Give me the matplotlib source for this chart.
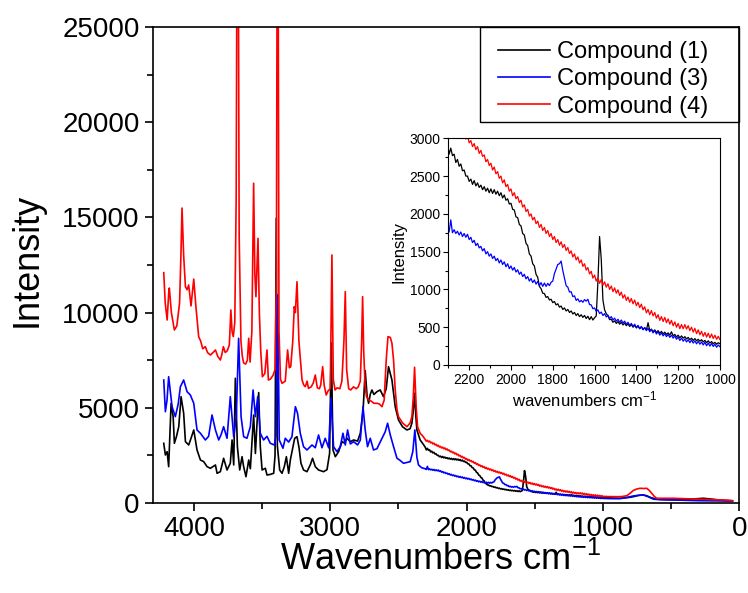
import matplotlib
matplotlib.use('Agg')
import matplotlib.pyplot as plt
from matplotlib.ticker import MultipleLocator
from matplotlib.patches import Rectangle

plt.rcParams['font.family'] = ['Liberation Sans', 'DejaVu Sans']
plt.rcParams['mathtext.fontset'] = 'custom'
plt.rcParams['mathtext.rm'] = 'Liberation Sans'
plt.rcParams['mathtext.it'] = 'Liberation Sans:italic'
plt.rcParams['mathtext.bf'] = 'Liberation Sans:bold'

labels = ['Compound (1)', 'Compound (3)', 'Compound (4)']
colors = ['#000000', '#0000FF', '#FF0000']

# ---- high-wavenumber part (wavenumber, intensity) ----
c1_high = [(4221,3135),(4209,2521),(4196,2695),(4185,1907),(4167,5236),(4152,4533),(4143,3135),(4128,3482),
           (4111,4007),(4094,5583),(4075,4711),(4062,3220),(4038,3046),(4021,3398),(4001,3834),(3977,2784),
           (3952,2258),(3928,2170),(3903,1907),(3879,1822),(3842,1996),(3830,1560),(3806,1644),(3782,2348),
           (3757,1733),(3733,2085),(3720,3309),(3708,1996),(3696,6550),(3681,2957),(3664,1733),(3647,2432),
           (3635,1900),(3618,1381),(3598,2258),(3586,1800),(3562,4622),(3549,2600),(3525,5800),(3513,2957),
           (3500,1733),(3476,1822),(3464,1470),(3440,1500),(3415,1560),(3405,2500),(3396,14950),(3388,3000),
           (3371,1733),(3354,1560),(3337,1907),(3322,2432),(3305,1560),(3293,2258),(3273,2957),(3261,3398),
           (3244,3482),(3229,2900),(3215,2085),(3196,1733),(3171,1644),(3147,1996),(3130,2348),(3110,1907),
           (3086,1733),(3049,1644),(3024,1750),(3005,2610),(2993,8400),(2980,2784),(2963,2432),(2939,2695),
           (2914,3220),(2897,3150),(2878,3398),(2853,3220),(2829,3309),(2800,3250),(2780,3661),(2760,4800),
           (2744,6950),(2730,5600),(2719,5236),(2707,5700),(2695,5935),(2680,5700),(2658,5846),(2634,5935),
           (2610,5583),(2590,6000),(2573,7160),(2548,6460),(2524,5058),(2500,4360),(2470,4000),(2438,3834),
           (2415,3900),(2402,4186),(2392,4800),(2382,5760),(2372,4500),(2365,3834),(2341,3309),(2320,3100)]

c3_high = [(4221,6460),(4209,4795),(4197,5400),(4185,6633),(4160,5058),(4136,4533),(4115,5200),(4099,6108),
           (4075,6460),(4050,5846),(4026,5672),(4001,5236),(3977,3834),(3952,3661),(3916,3309),(3892,3500),
           (3867,4622),(3842,3834),(3818,3309),(3800,3600),(3782,4007),(3757,3398),(3733,5583),(3708,3482),
           (3689,4533),(3672,8650),(3654,4533),(3635,3482),(3611,3398),(3586,4007),(3566,5935),(3549,4533),
           (3532,5583),(3513,3661),(3489,3309),(3464,3500),(3440,3135),(3410,3046),(3398,3500),(3386,10925),
           (3374,3309),(3347,2873),(3330,3398),(3305,3200),(3281,3482),(3256,5058),(3240,4711),(3220,3661),
           (3196,2957),(3171,2784),(3134,3046),(3110,2900),(3086,3571),(3061,2900),(3037,3398),(3012,2900),
           (2995,5500),(2976,2957),(2951,2695),(2927,2957),(2907,3661),(2890,3046),(2873,3834),(2853,3100),
           (2829,3220),(2800,3050),(2780,3300),(2760,5058),(2744,3834),(2727,2957),(2707,3398),(2683,2784),
           (2658,2850),(2621,3398),(2597,3745),(2580,4186),(2560,3571),(2536,2957),(2511,2348),(2492,2258),
           (2463,2085),(2414,2170),(2395,2700),(2380,3834),(2365,2400),(2353,1996),(2330,1850),(2316,1822)]

c4_high = [(4221,12096),(4210,10500),(4196,9611),(4185,11000),(4180,11290),(4165,10000),(4143,9086),(4125,9300),
           (4105,10500),(4095,13000),(4087,15490),(4075,13000),(4062,11360),(4050,11200),(4038,11450),(4021,10350),
           (4001,11760),(3985,10300),(3965,8735),(3950,8500),(3935,8100),(3916,8210),(3900,7900),(3879,7770),
           (3860,7900),(3842,8036),(3825,7700),(3806,7510),(3795,7800),(3784,8210),(3770,7900),(3755,8000),
           (3740,8300),(3729,10136),(3720,9000),(3711,8735),(3700,9500),(3690,16000),(3679,40000),(3668,14000),
           (3655,8500),(3645,7700),(3635,7350),(3620,7300),(3608,7500),(3598,8650),(3588,7400),(3575,9000),
           (3562,16790),(3553,12000),(3545,10835),(3530,13900),(3520,10000),(3510,8000),(3498,6630),(3480,6800),
           (3464,8036),(3454,6460),(3440,6500),(3420,6700),(3405,7000),(3395,12000),(3386,40000),(3376,9000),
           (3365,6500),(3354,6285),(3330,6400),(3313,8036),(3300,7100),(3290,7160),(3275,8500),(3264,10310),
           (3256,10000),(3244,11620),(3230,8500),(3207,6460),(3195,6200),(3183,6110),(3170,6400),(3160,6020),
           (3140,6100),(3125,6300),(3110,6720),(3095,6050),(3080,6000),(3070,6200),(3056,7160),(3045,6200),
           (3030,5670),(3015,5900),(3000,6000),(2988,13025),(2978,6500),(2965,5935),(2950,6050),(2930,6000),
           (2915,6400),(2900,8500),(2890,11100),(2880,7000),(2865,6000),(2850,5935),(2830,6100),(2810,6000),
           (2795,6100),(2780,6400),(2770,8500),(2763,10835),(2755,8000),(2745,6200),(2735,5600),(2719,5410),
           (2700,5350),(2680,5236),(2658,5236),(2640,5200),(2621,5058),(2605,5400),(2590,7500),(2577,8735),
           (2560,8700),(2548,8387),(2536,7500),(2524,5935),(2511,4900),(2500,4533),(2470,4200),(2438,4007),
           (2415,4200),(2402,4533),(2392,5500),(2382,7126),(2370,5000),(2360,4000),(2341,3661),(2320,3500)]

# ---- fine sampling grid 2304..1000 cm-1 (shown in inset) ----
wn_fine = [2304,2296,2288,2280,2272,2264,2256,2248,2240,2232,
           2224,2216,2208,2200,2192,2184,2176,2168,2160,2152,
           2144,2136,2128,2120,2112,2104,2096,2088,2080,2072,
           2064,2056,2048,2040,2032,2024,2016,2008,2000,1992,
           1984,1976,1968,1960,1952,1944,1936,1928,1920,1912,
           1904,1896,1888,1880,1872,1864,1856,1848,1840,1832,
           1824,1816,1808,1800,1792,1784,1776,1768,1760,1752,
           1744,1736,1728,1720,1712,1704,1696,1688,1680,1672,
           1664,1656,1648,1640,1632,1624,1616,1608,1600,1592,
           1584,1576,1568,1560,1552,1544,1536,1528,1520,1512,
           1504,1496,1488,1480,1472,1464,1456,1448,1440,1432,
           1424,1416,1408,1400,1392,1384,1376,1368,1360,1352,
           1344,1336,1328,1320,1312,1304,1296,1288,1280,1272,
           1264,1256,1248,1240,1232,1224,1216,1208,1200,1192,
           1184,1176,1168,1160,1152,1144,1136,1128,1120,1112,
           1104,1096,1088,1080,1072,1064,1056,1048,1040,1032,
           1024,1016,1008,1000]

c1_fine = [2930,2790,2870,2770,2790,2680,2720,2630,2660,2570,
           2580,2500,2500,2430,2460,2390,2440,2370,2410,2350,
           2380,2320,2360,2300,2340,2280,2330,2270,2320,2260,
           2300,2240,2280,2210,2250,2180,2200,2130,2140,2060,
           2050,1960,1950,1860,1840,1740,1720,1610,1580,1470,
           1440,1340,1310,1200,1160,1040,1010,950,945,895,
           905,860,870,825,840,795,810,765,780,735,
           755,715,735,695,715,675,695,655,680,640,
           665,630,655,615,645,600,640,595,625,650,
           1100,1700,1400,860,730,680,650,600,605,565,
           585,550,575,540,565,530,555,520,545,510,
           535,500,525,490,515,480,505,470,495,460,
           560,455,475,440,465,430,455,420,445,410,
           435,405,425,395,440,385,405,370,395,360,
           385,355,375,345,365,335,355,325,350,320,
           340,315,335,305,325,295,320,290,310,280,
           300,275,295,280]

c3_fine = [1800,1760,1920,1750,1790,1740,1770,1720,1760,1700,
           1740,1690,1730,1660,1690,1620,1650,1580,1610,1550,
           1570,1510,1540,1470,1500,1440,1470,1410,1440,1380,
           1410,1350,1390,1330,1365,1300,1340,1275,1310,1255,
           1290,1230,1260,1200,1230,1170,1200,1140,1170,1110,
           1145,1090,1125,1070,1105,1050,1090,1040,1085,1040,
           1080,1050,1095,1110,1210,1270,1330,1340,1375,1250,
           1150,1050,1030,965,970,905,915,855,875,835,
           855,830,865,845,870,800,795,745,755,710,
           730,680,700,655,680,635,660,615,640,595,
           620,580,605,565,595,555,580,540,565,525,
           550,510,540,495,525,480,510,465,495,455,
           485,440,470,425,455,410,440,395,425,385,
           415,375,405,365,395,355,385,340,370,325,
           355,315,345,305,335,295,330,290,320,280,
           315,275,305,265,300,255,290,250,285,245,
           275,235,265,240]

c4_fine = [3330,3250,3290,3210,3250,3160,3190,3100,3140,3050,
           3080,2990,3030,2940,2970,2890,2930,2850,2890,2800,
           2840,2760,2780,2690,2720,2640,2670,2580,2620,2530,
           2560,2470,2500,2410,2450,2360,2390,2300,2330,2240,
           2280,2200,2230,2150,2180,2090,2120,2030,2060,1970,
           2000,1920,1955,1870,1905,1820,1860,1780,1820,1740,
           1780,1700,1740,1660,1700,1620,1660,1585,1630,1555,
           1595,1515,1555,1475,1510,1430,1470,1390,1430,1350,
           1390,1305,1340,1255,1290,1205,1240,1150,1190,1110,
           1155,1080,1130,1055,1100,1030,1075,1000,1045,970,
           1020,950,995,920,965,885,930,855,900,830,
           880,810,860,785,830,760,805,730,770,690,
           735,665,720,650,695,620,665,590,640,575,
           630,560,610,540,590,520,570,500,550,480,
           535,480,535,475,520,455,500,435,485,415,
           465,400,445,380,430,370,420,360,410,350,
           395,340,380,335]

# ---- low-wavenumber part ----
c1_low = [(992,285),(960,270),(920,255),(875,247),(830,280),(800,300),(778,331),(740,400),(705,420),
          (680,380),(656,300),(620,220),(583,194),(500,170),(400,180),(300,230),(265,247),(200,200),
          (143,150),(60,120)]
c3_low = [(992,240),(950,230),(900,225),(875,230),(830,280),(800,330),(778,370),(740,400),(705,420),
          (670,330),(631,200),(580,170),(485,158),(300,120),(100,100),(50,100)]
c4_low = [(992,345),(960,335),(925,331),(890,330),(860,340),(826,380),(800,520),(778,660),(750,740),
          (729,772),(700,760),(680,772),(660,650),(643,509),(625,350),(607,247),(485,247),(265,194),
          (100,150),(50,120)]


def assemble(high, fine, low):
    wn = [p[0] for p in high] + list(wn_fine) + [p[0] for p in low]
    iv = [p[1] for p in high] + list(fine) + [p[1] for p in low]
    return wn, iv


series = [assemble(c1_high, c1_fine, c1_low),
          assemble(c3_high, c3_fine, c3_low),
          assemble(c4_high, c4_fine, c4_low)]

fig = plt.figure(figsize=(7.48, 5.93), dpi=100)
ax = fig.add_axes([0.2045, 0.1518, 0.7841, 0.8027])

for (wn, iv), c, lab in zip(series, colors, labels):
    ax.plot(wn, iv, color=c, lw=1.2, label=lab)

ax.set_xlim(4300, 0)
ax.set_ylim(0, 25000)
ax.xaxis.set_major_locator(MultipleLocator(1000))
ax.xaxis.set_minor_locator(MultipleLocator(500))
ax.yaxis.set_major_locator(MultipleLocator(5000))
ax.yaxis.set_minor_locator(MultipleLocator(2500))
ax.tick_params(which='both', direction='out', top=False, right=False, width=1.2, labelsize=20)
ax.tick_params(which='major', length=6)
ax.tick_params(which='minor', length=4)
for s in ax.spines.values():
    s.set_linewidth(1.2)
ax.set_xlabel('Wavenumbers cm$^{-1}$', fontsize=26)
ax.set_ylabel('Intensity', fontsize=26)
ax.xaxis.set_label_coords(0.49, -0.082)
ax.yaxis.set_label_coords(-0.184, 0.51)

# legend with frame
ax.add_patch(Rectangle((0.557, 0.800), 0.443, 0.200, transform=ax.transAxes, fill=False,
                       ec='black', lw=1.0, clip_on=False, zorder=5))
ax.legend(loc='upper left', bbox_to_anchor=(0.588, 0.970), frameon=False, fontsize=17,
          borderpad=0, borderaxespad=0, handlelength=2.2, handletextpad=0.3, labelspacing=0.22)

# inset
axin = fig.add_axes([0.5993, 0.3845, 0.3632, 0.3823])
for (wn, iv), c in zip(series, colors):
    axin.plot(wn, iv, color=c, lw=0.9)
axin.set_xlim(2300, 1000)
axin.set_ylim(0, 3000)
axin.xaxis.set_major_locator(MultipleLocator(200))
axin.xaxis.set_minor_locator(MultipleLocator(100))
axin.yaxis.set_major_locator(MultipleLocator(500))
axin.yaxis.set_minor_locator(MultipleLocator(250))
axin.tick_params(which='both', direction='out', top=False, right=False, width=0.8, labelsize=10, pad=2)
axin.tick_params(which='major', length=3.5)
axin.tick_params(which='minor', length=2)
for s in axin.spines.values():
    s.set_linewidth(0.8)
axin.set_xlabel('wavenumbers cm$^{-1}$', fontsize=12, labelpad=2)
axin.set_ylabel('Intensity', fontsize=12, labelpad=2)

fig.savefig('out.png', dpi=100)
